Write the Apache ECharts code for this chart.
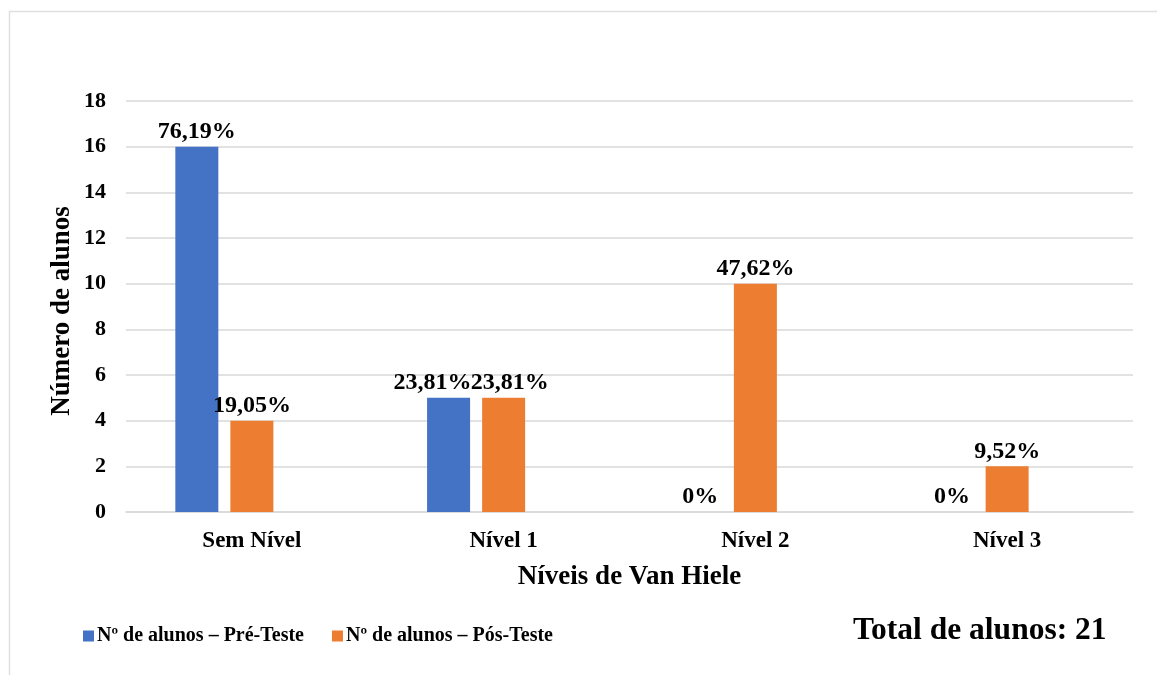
<!DOCTYPE html>
<html>
<head>
<meta charset="utf-8">
<script src="https://cdn.jsdelivr.net/npm/echarts@6/dist/echarts.min.js"></script>
<style>
  html, body { margin: 0; padding: 0; background: #ffffff; }
  #chart { width: 1157px; height: 675px; }
</style>
</head>
<body>
<div id="chart"></div>
<script>
// Níveis de Van Hiele — número de alunos antes e depois
const categories = ['Sem Nível', 'Nível 1', 'Nível 2', 'Nível 3'];
const preTeste = [16, 5, 0, 0];
const posTeste = [4, 5, 10, 2];
const totalAlunos = 21;
const yTicks = { min: 0, max: 18, interval: 2 };

const serif = "'Liberation Serif', 'Times New Roman', serif";
const gridColor = '#d9d9d9';

function pct(v) {
  if (v === 0) return '0%';
  return (v / totalAlunos * 100).toFixed(2).replace('.', ',') + '%';
}

const labelStyle = {
  show: true,
  position: 'top',
  distance: 3,
  fontFamily: serif,
  fontWeight: 'bold',
  fontSize: 24,
  color: '#000',
  formatter: p => pct(p.value)
};

// the two equal labels of "Nível 1" are pushed apart so they don't collide
function withLabelShift(values, idx, dx) {
  return values.map((v, i) => i === idx ? { value: v, label: { offset: [dx, 0] } } : v);
}

const chart = echarts.init(document.getElementById('chart'), null, { renderer: 'canvas' });

chart.setOption({
  animation: false,
  backgroundColor: '#ffffff',
  grid: { left: 126, right: 24, top: 101, bottom: 163, containLabel: false },
  legend: {
    data: ['Nº de alunos – Pré-Teste', 'Nº de alunos – Pós-Teste'],
    left: 83,
    top: 626,
    padding: 0,
    itemWidth: 11,
    itemHeight: 11,
    itemGap: 28,
    icon: 'rect',
    textStyle: { fontFamily: serif, fontWeight: 'bold', fontSize: 20, color: '#000', padding: [0, 0, 0, -2] }
  },
  xAxis: {
    type: 'category',
    data: categories,
    name: 'Níveis de Van Hiele',
    nameLocation: 'middle',
    nameGap: 52,
    nameTextStyle: { fontFamily: serif, fontWeight: 'bold', fontSize: 27, color: '#000' },
    axisLine: { lineStyle: { color: gridColor, width: 1.5 } },
    axisTick: { show: false },
    axisLabel: { fontFamily: serif, fontWeight: 'bold', fontSize: 23, color: '#000', margin: 18 }
  },
  yAxis: {
    type: 'value',
    min: yTicks.min,
    max: yTicks.max,
    interval: yTicks.interval,
    axisLine: { show: false },
    axisTick: { show: false },
    splitLine: { lineStyle: { color: gridColor, width: 1.5 } },
    axisLabel: { fontFamily: serif, fontWeight: 'bold', fontSize: 22, color: '#000', margin: 20 }
  },
  series: [
    {
      name: 'Nº de alunos – Pré-Teste',
      type: 'bar',
      data: withLabelShift(preTeste, 1, -16),
      barWidth: 43,
      barGap: '28%',
      itemStyle: { color: '#4472C4' },
      label: labelStyle
    },
    {
      name: 'Nº de alunos – Pós-Teste',
      type: 'bar',
      data: withLabelShift(posTeste, 1, 6),
      barWidth: 43,
      barGap: '28%',
      itemStyle: { color: '#ED7D31' },
      label: labelStyle
    },
    {
      // empty third slot in each group keeps the bar pairs left of centre
      name: 'reserva',
      type: 'bar',
      data: categories.map(() => null),
      barWidth: 43,
      barGap: '28%',
      itemStyle: { color: 'transparent' }
    }
  ],
  graphic: [
    {
      type: 'line',
      shape: { x1: 9.5, y1: 11, x2: 9.5, y2: 675 },
      style: { stroke: '#e0e0e0', lineWidth: 1.5 }
    },
    {
      type: 'line',
      shape: { x1: 9, y1: 11.5, x2: 1157, y2: 11.5 },
      style: { stroke: '#e0e0e0', lineWidth: 1.5 }
    },
    {
      // y-axis title
      type: 'text',
      x: 62,
      y: 311,
      rotation: Math.PI / 2,
      style: {
        text: 'Número de alunos',
        font: 'bold 27px ' + serif,
        fill: '#000',
        align: 'center',
        verticalAlign: 'middle'
      }
    },
    {
      type: 'text',
      left: 853,
      top: 615,
      style: {
        text: 'Total de alunos: ' + totalAlunos,
        font: 'bold 31.5px ' + serif,
        fill: '#000'
      }
    }
  ]
});
</script>
</body>
</html>
